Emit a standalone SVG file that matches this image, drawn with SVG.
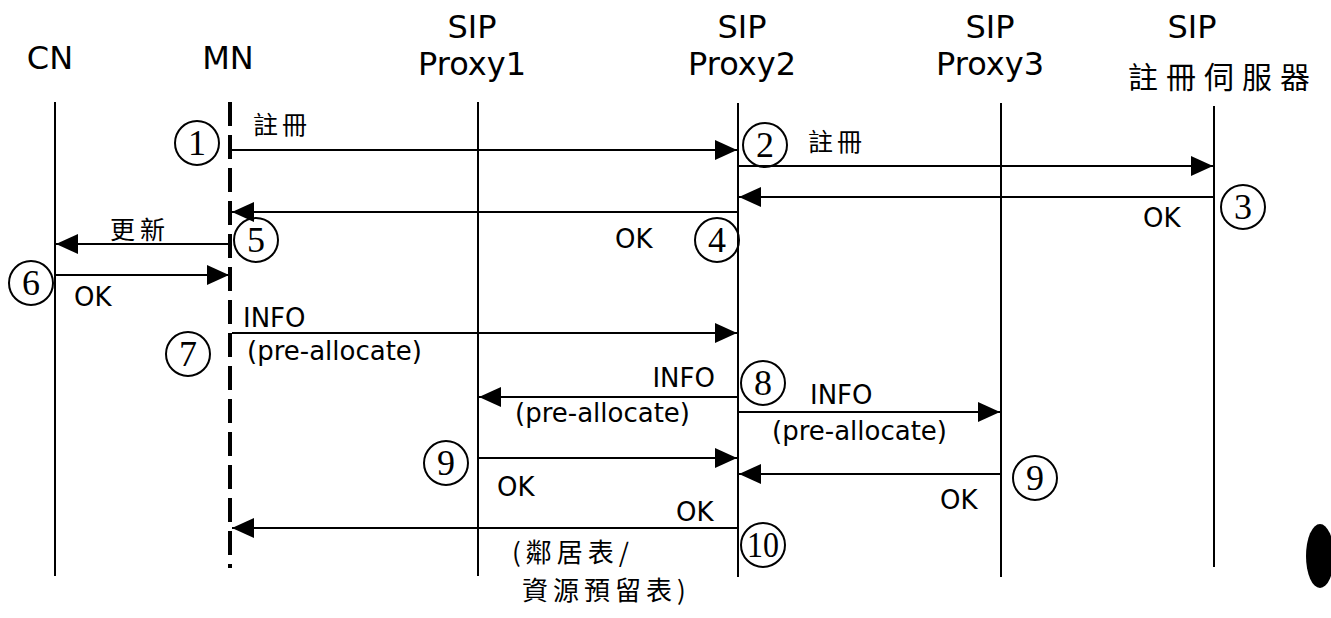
<svg xmlns="http://www.w3.org/2000/svg" width="1331" height="618" viewBox="0 0 1331 618">
<style>
.hdr{font-family:"DejaVu Sans","Liberation Sans",sans-serif;font-size:32px;fill:#000;text-anchor:middle}
.lbl{font-family:"DejaVu Sans","Liberation Sans",sans-serif;font-size:26px;fill:#000}
.cjk{font-family:"Noto Sans CJK TC","Noto Sans CJK SC",sans-serif;fill:#000}
.num{font-family:"Liberation Serif","DejaVu Serif",serif;font-size:36px;fill:#000;text-anchor:middle}
.life{stroke:#000;stroke-width:2;fill:none}
.mnlife{stroke:#000;stroke-width:4;stroke-dasharray:24 9;fill:none}
.msg{stroke:#000;stroke-width:2;fill:none;marker-end:url(#ah)}
.circ{fill:none;stroke:#000;stroke-width:2}
</style>
<defs>
<marker id="ah" viewBox="0 0 22 20" markerUnits="userSpaceOnUse" markerWidth="22" markerHeight="20" refX="22" refY="10" orient="auto">
<path d="M0,0 L22,10 L0,20 z" fill="#000"/>
</marker>
</defs>
<rect width="1331" height="618" fill="#fff"/>

<g id="node-cn">
<text class="hdr" x="50" y="69">CN</text>
<line class="life" x1="55" y1="102" x2="55" y2="576"/>
</g>
<g id="node-mn">
<text class="hdr" x="228" y="69">MN</text>
<line class="mnlife" x1="230" y1="102" x2="230" y2="568"/>
</g>
<g id="node-proxy1">
<text class="hdr" x="472" y="38">SIP</text>
<text class="hdr" x="472" y="75">Proxy1</text>
<line class="life" x1="478" y1="102" x2="478" y2="576"/>
</g>
<g id="node-proxy2">
<text class="hdr" x="742" y="38">SIP</text>
<text class="hdr" x="742" y="75">Proxy2</text>
<line class="life" x1="738" y1="103" x2="738" y2="577"/>
</g>
<g id="node-proxy3">
<text class="hdr" x="990" y="38">SIP</text>
<text class="hdr" x="990" y="75">Proxy3</text>
<line class="life" x1="1001" y1="103" x2="1001" y2="577"/>
</g>
<g id="node-registrar">
<text class="hdr" x="1192" y="38">SIP</text>
<text class="cjk" x="1128" y="88" font-size="30" letter-spacing="8">註冊伺服器</text>
<line class="life" x1="1214" y1="106" x2="1214" y2="567"/>
</g>

<g id="connectors">
<line class="msg" x1="232" y1="150" x2="737" y2="150"/>
<line class="msg" x1="739" y1="166" x2="1213" y2="166"/>
<line class="msg" x1="1213" y1="197" x2="739" y2="197"/>
<line class="msg" x1="737" y1="212" x2="232" y2="212"/>
<line class="msg" x1="229" y1="244" x2="56" y2="244"/>
<line class="msg" x1="56" y1="275" x2="229" y2="275"/>
<line class="msg" x1="232" y1="333" x2="737" y2="333"/>
<line class="msg" x1="737" y1="397" x2="479" y2="397"/>
<line class="msg" x1="739" y1="412" x2="1000" y2="412"/>
<line class="msg" x1="479" y1="458" x2="737" y2="458"/>
<line class="msg" x1="1000" y1="474" x2="739" y2="474"/>
<line class="msg" x1="737" y1="528" x2="232" y2="528"/>
</g>

<g id="labels">
<text class="cjk" x="253" y="134" font-size="25" letter-spacing="4">註冊</text>
<text class="cjk" x="808" y="151" font-size="25" letter-spacing="4">註冊</text>
<text class="lbl" x="1143" y="227">OK</text>
<text class="lbl" x="615" y="248">OK</text>
<text class="cjk" x="110" y="239" font-size="25" letter-spacing="5">更新</text>
<text class="lbl" x="74" y="306">OK</text>
<text class="lbl" x="243" y="327">INFO</text>
<text class="lbl" x="247" y="360">(pre-allocate)</text>
<text class="lbl" x="715" y="387" text-anchor="end">INFO</text>
<text class="lbl" x="690" y="422" text-anchor="end">(pre-allocate)</text>
<text class="lbl" x="810" y="404">INFO</text>
<text class="lbl" x="772" y="440">(pre-allocate)</text>
<text class="lbl" x="497" y="496">OK</text>
<text class="lbl" x="940" y="509">OK</text>
<text class="lbl" x="676" y="521">OK</text>
<text class="cjk" x="512" y="562" font-size="26" letter-spacing="5">(鄰居表/</text>
<text class="cjk" x="522" y="600" font-size="26" letter-spacing="5">資源預留表)</text>
</g>

<g id="steps">
<g id="step1"><circle class="circ" cx="197" cy="143" r="22"/><text class="num" x="197" y="155">1</text></g>
<g id="step2"><circle class="circ" cx="765" cy="145" r="22"/><text class="num" x="765" y="157">2</text></g>
<g id="step3"><circle class="circ" cx="1243" cy="207" r="22"/><text class="num" x="1243" y="219">3</text></g>
<g id="step4"><circle class="circ" cx="717" cy="240" r="22"/><text class="num" x="717" y="252">4</text></g>
<g id="step5"><circle class="circ" cx="256" cy="240" r="22"/><text class="num" x="256" y="252">5</text></g>
<g id="step6"><circle class="circ" cx="31" cy="283" r="22"/><text class="num" x="31" y="295">6</text></g>
<g id="step7"><circle class="circ" cx="188" cy="354" r="22"/><text class="num" x="188" y="366">7</text></g>
<g id="step8"><circle class="circ" cx="763" cy="383" r="22"/><text class="num" x="763" y="395">8</text></g>
<g id="step9a"><circle class="circ" cx="446" cy="463" r="22"/><text class="num" x="446" y="475">9</text></g>
<g id="step9b"><circle class="circ" cx="1035" cy="478" r="22"/><text class="num" x="1035" y="490">9</text></g>
<g id="step10"><circle class="circ" cx="763" cy="545" r="22"/><text class="num" x="763" y="557" textLength="32" lengthAdjust="spacingAndGlyphs">10</text></g>
</g>

<ellipse cx="1320" cy="556" rx="14" ry="32" fill="#000"/>
</svg>
